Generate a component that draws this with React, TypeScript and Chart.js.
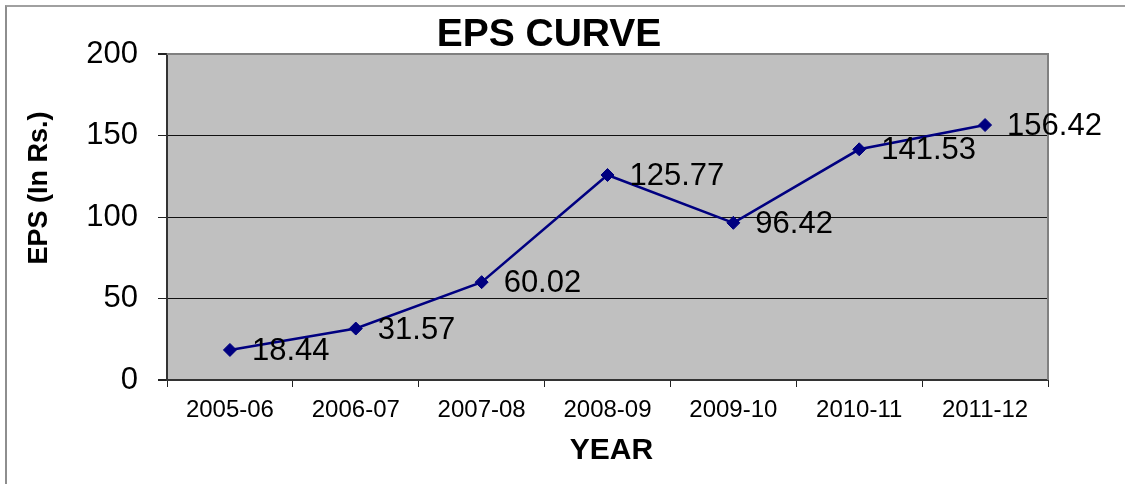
import React, { useEffect, useRef } from "react";
import { Chart, registerables } from "chart.js";

Chart.register(...registerables);

// EPS per financial year (in Rs.)
const years = ["2005-06", "2006-07", "2007-08", "2008-09", "2009-10", "2010-11", "2011-12"];
const eps = [18.44, 31.57, 60.02, 125.77, 96.42, 141.53, 156.42];
const yTicks = [0, 50, 100, 150, 200];

const chartTitle = "EPS CURVE";
const yTitle = "EPS (In Rs.)";
const xTitle = "YEAR";

const FONT = "'Liberation Sans', Arial, Helvetica, sans-serif";
const NAVY = "#000080";

const plotBackground = {
  id: "plotBackground",
  beforeDraw(chart: any) {
    const { ctx, chartArea: a } = chart;
    ctx.save();
    ctx.fillStyle = "#C0C0C0";
    ctx.fillRect(a.left, a.top, a.right - a.left, a.bottom - a.top);
    ctx.restore();
  },
  beforeDatasetsDraw(chart: any) {
    // grey frame on the top and right edges of the plot area
    const { ctx, chartArea: a } = chart;
    ctx.save();
    ctx.strokeStyle = "#808080";
    ctx.lineWidth = 2;
    ctx.beginPath();
    ctx.moveTo(a.left, a.top);
    ctx.lineTo(a.right, a.top);
    ctx.lineTo(a.right, a.bottom);
    ctx.stroke();
    ctx.restore();
  },
};

const valueLabels = {
  id: "valueLabels",
  afterDatasetsDraw(chart: any) {
    const { ctx } = chart;
    const meta = chart.getDatasetMeta(0);
    const data = chart.data.datasets[0].data as number[];
    ctx.save();
    ctx.fillStyle = "#000";
    ctx.font = `31px ${FONT}`;
    ctx.textAlign = "left";
    ctx.textBaseline = "middle";
    meta.data.forEach((pt: any, i: number) => {
      ctx.fillText(data[i].toFixed(2), pt.x + 22, pt.y + 1.5);
    });
    ctx.restore();
  },
};

const titles = {
  id: "titles",
  afterDraw(chart: any) {
    const { ctx, chartArea: a } = chart;
    ctx.save();
    ctx.fillStyle = "#000";
    ctx.textAlign = "center";
    ctx.textBaseline = "middle";

    ctx.font = `bold 39px ${FONT}`;
    ctx.fillText(chartTitle, 549, 35);

    ctx.font = `bold 30px ${FONT}`;
    ctx.fillText(xTitle, (a.left + a.right) / 2 + 4, 451);

    ctx.translate(40, 188);
    ctx.rotate(-Math.PI / 2);
    ctx.font = `bold 27px ${FONT}`;
    ctx.fillText(yTitle, 0, 0);
    ctx.restore();
  },
};

export default function App() {
  const canvasRef = useRef<HTMLCanvasElement | null>(null);

  useEffect(() => {
    const canvas = canvasRef.current;
    if (!canvas) return;
    const chart = new Chart(canvas, {
      type: "line",
      data: {
        labels: years,
        datasets: [
          {
            data: eps,
            borderColor: NAVY,
            backgroundColor: NAVY,
            borderWidth: 2.5,
            pointStyle: "rectRot",
            pointRadius: 6.5,
            pointBorderWidth: 1,
            pointBackgroundColor: NAVY,
            pointBorderColor: NAVY,
            tension: 0,
            fill: false,
          },
        ],
      },
      options: {
        responsive: false,
        animation: false,
        events: [],
        layout: { padding: { top: 54, right: 77, bottom: 0, left: 0 } },
        plugins: {
          legend: { display: false },
          title: { display: false },
          tooltip: { enabled: false },
        },
        scales: {
          x: {
            type: "category",
            offset: true,
            afterFit(scale: any) {
              scale.height = 104;
            },
            grid: {
              offset: true,
              drawOnChartArea: false,
              drawTicks: true,
              tickLength: 7,
              tickColor: "#222",
            },
            border: { display: true, color: "#333", width: 2 },
            ticks: {
              color: "#000",
              font: { family: FONT, size: 24 },
              padding: 9,
              maxRotation: 0,
              autoSkip: false,
            },
          },
          y: {
            min: 0,
            max: 200,
            afterFit(scale: any) {
              scale.width = 167;
            },
            afterBuildTicks(scale: any) {
              scale.ticks = yTicks.map((v) => ({ value: v }));
            },
            grid: {
              color: (c: any) => (c.tick && c.tick.value === 200 ? "#808080" : c.tick && c.tick.value === 0 ? "#333" : "#111"),
              lineWidth: (c: any) => (c.tick && (c.tick.value === 200 || c.tick.value === 0) ? 2 : 1),
              drawTicks: true,
              tickLength: 9,
              tickColor: "#222",
            },
            border: { display: true, color: "#333", width: 2 },
            ticks: {
              color: "#000",
              font: { family: FONT, size: 31 },
              padding: 20,
            },
          },
        },
      },
      plugins: [plotBackground, valueLabels, titles],
    });
    return () => chart.destroy();
  }, []);

  return (
    <div style={{ position: "fixed", inset: 0, overflow: "hidden", background: "#fff" }}>
      <div
        style={{
          position: "absolute",
          left: 5,
          top: 5,
          width: 1200,
          height: 600,
          borderLeft: "2px solid #8e8e8e",
          borderTop: "2px solid #a0a0a0",
        }}
      />
      <canvas
        ref={canvasRef}
        width={1125}
        height={484}
        style={{ position: "absolute", left: 0, top: 0, display: "block" }}
      />
    </div>
  );
}
